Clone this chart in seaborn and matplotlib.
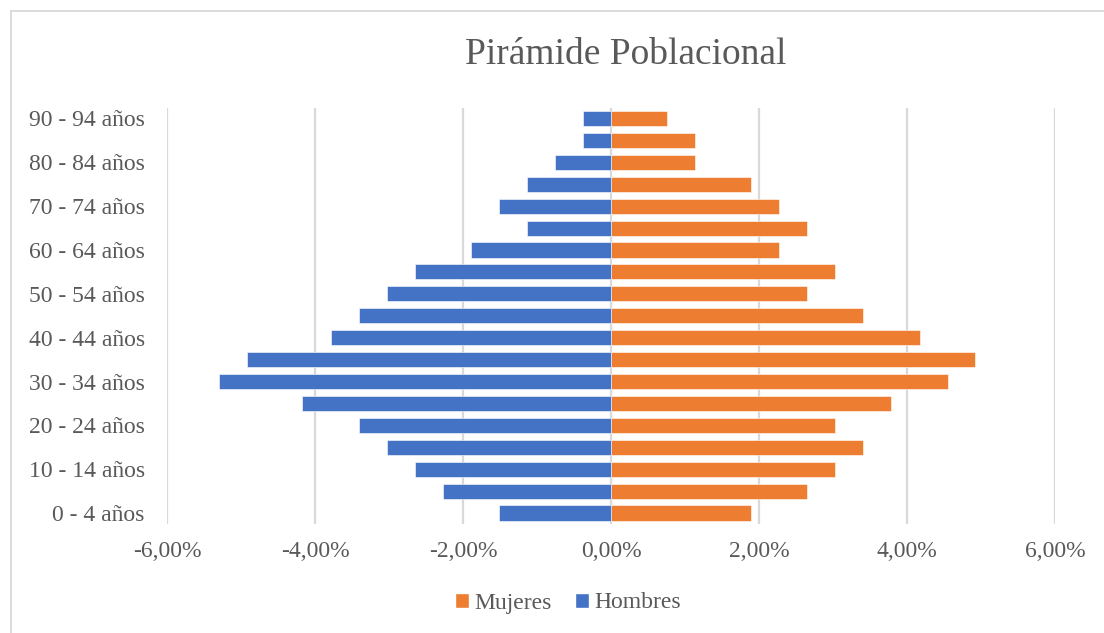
import matplotlib
matplotlib.use("Agg")
import matplotlib.pyplot as plt
from matplotlib.patches import Rectangle, Patch
from matplotlib.ticker import FuncFormatter, MultipleLocator
import seaborn as sns
import pandas as pd

# Age groups, listed from the oldest (top row) to the youngest (bottom row)
grupos = ["90 - 94 años", "85 - 89 años", "80 - 84 años", "75 - 79 años",
          "70 - 74 años", "65 - 69 años", "60 - 64 años", "55 - 59 años",
          "50 - 54 años", "45 - 49 años", "40 - 44 años", "35 - 39 años",
          "30 - 34 años", "25 - 29 años", "20 - 24 años", "15 - 19 años",
          "10 - 14 años", "5 - 9 años", "0 - 4 años"]

# Share of the total population (%) per age group
hombres = [0.38, 0.38, 0.76, 1.14, 1.52, 1.14, 1.89, 2.65, 3.03, 3.41,
           3.79, 4.92, 5.30, 4.17, 3.41, 3.03, 2.65, 2.27, 1.52]
mujeres = [0.76, 1.14, 1.14, 1.89, 2.27, 2.65, 2.27, 3.03, 2.65, 3.41,
           4.17, 4.92, 4.55, 3.79, 3.03, 3.41, 3.03, 2.65, 1.89]

color_h = "#4472C4"
color_m = "#ED7D31"
gris = "#595959"

df = pd.DataFrame({
    "grupo": grupos * 2,
    "sexo": ["Hombres"] * len(grupos) + ["Mujeres"] * len(grupos),
    "valor": [-v for v in hombres] + mujeres,
})

sns.set_theme(style="white")
plt.rcParams["font.family"] = ["Liberation Serif", "DejaVu Serif"]

fig = plt.figure(figsize=(11.04, 6.33), dpi=100)
ax = fig.add_axes([167 / 1104, 1 - 524 / 633, (1055 - 167) / 1104, (524 - 107.5) / 633])

sns.barplot(data=df, y="grupo", x="valor", hue="sexo", order=grupos,
            hue_order=["Mujeres", "Hombres"],
            palette={"Hombres": color_h, "Mujeres": color_m},
            orient="h", dodge=False, width=0.69, saturation=1, ax=ax,
            edgecolor="white", linewidth=0.4, legend=False, zorder=3)

ax.set_xlim(-6, 6)
ax.set_ylim(len(grupos) - 0.5, -0.5)
ax.xaxis.set_major_locator(MultipleLocator(2))
ax.xaxis.set_major_formatter(
    FuncFormatter(lambda v, p: f"{v:.2f}".replace(".", ",") + "%" if abs(v) > 1e-9 else "0,00%"))
ax.grid(axis="x", color="#d9d9d9", linewidth=1.6, zorder=0)
ax.grid(axis="y", visible=False)
ax.set_axisbelow(True)
for s in ax.spines.values():
    s.set_visible(False)

ax.set_yticks(range(len(grupos)))
ax.set_yticklabels([g if i % 2 == 0 else "" for i, g in enumerate(grupos)])
ax.tick_params(axis="both", length=0, labelsize=17, labelcolor=gris)
ax.tick_params(axis="y", pad=16)
ax.tick_params(axis="x", pad=12)
ax.set_xlabel("")
ax.set_ylabel("")

fig.text(626 / 1104, 1 - 55 / 633, "Pirámide Poblacional", ha="center", va="center",
         fontsize=27, color=gris)

handles = [Patch(facecolor=color_m, label="Mujeres"),
           Patch(facecolor=color_h, label="Hombres")]
fig.legend(handles=handles, loc="center", bbox_to_anchor=(568 / 1104, 1 - 603 / 633),
           ncol=2, frameon=False, fontsize=17, labelcolor=gris,
           handlelength=0.6, handleheight=0.6, handletextpad=0.2, columnspacing=1.0)

fig.patches.append(Rectangle((10.5 / 1104, -0.1), 1.2, 1.1 - 11.5 / 633,
                             transform=fig.transFigure, fill=False,
                             edgecolor="#d9d9d9", linewidth=1.3))

fig.savefig("out.png", dpi=100, facecolor="white")
